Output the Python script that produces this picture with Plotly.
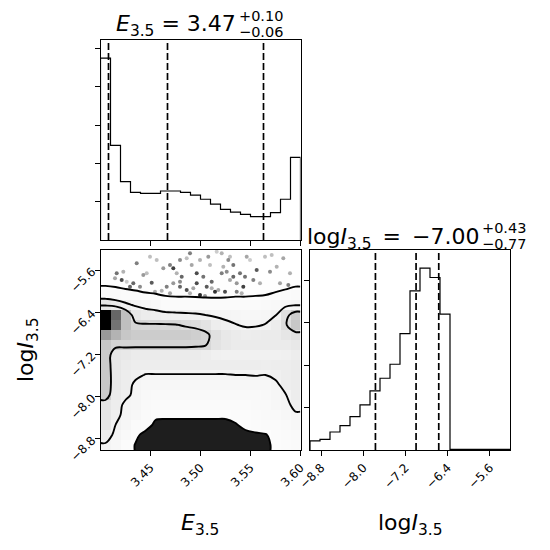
import numpy as np
import plotly.graph_objects as go

# ---------------- data ----------------
E_range = [3.40, 3.60]
logI_range = [-9.01, -5.22]
n_bins = 20

E_counts = [4750, 2470, 1525, 1245, 1220, 1220, 1280, 1280, 1245, 1170,
            1065, 935, 800, 730, 670, 610, 610, 715, 1065, 2160]
logI_counts = [213, 252, 425, 575, 787, 1063, 1394, 1693, 2024, 2748,
               3756, 4291, 4071, 3205, 14, 14, 14, 14, 14, 14]

E_quantiles = [3.408, 3.467, 3.563]
logI_quantiles = [-7.77, -7.00, -6.57]

E_ticks = [3.45, 3.50, 3.55, 3.60]
logI_ticks = [-8.8, -8.0, -7.2, -6.4, -5.6]
E_hist_yticks = [1000, 2000, 3000, 4000, 5000]
logI_hist_yticks = [1000, 2000, 3000, 4000]

# smoothed 2-D density (rows: logI bins bottom->top, cols: E bins left->right), normalised to max 1
density = [
    [0.045, 0.03, 0.015, 0.0095, 0.006, 0.005, 0.005, 0.005, 0.005, 0.005, 0.005, 0.005, 0.005, 0.005, 0.006, 0.007, 0.008, 0.012, 0.015, 0.02],
    [0.07, 0.04, 0.025, 0.012, 0.007, 0.006, 0.005, 0.005, 0.005, 0.005, 0.005, 0.005, 0.005, 0.006, 0.007, 0.008, 0.009, 0.015, 0.02, 0.025],
    [0.10, 0.05, 0.035, 0.02, 0.014, 0.008, 0.007, 0.007, 0.007, 0.007, 0.007, 0.007, 0.007, 0.009, 0.013, 0.016, 0.018, 0.02, 0.025, 0.03],
    [0.10, 0.06, 0.04, 0.03, 0.02, 0.012, 0.012, 0.012, 0.012, 0.012, 0.012, 0.012, 0.012, 0.014, 0.016, 0.02, 0.022, 0.025, 0.03, 0.045],
    [0.10, 0.07, 0.04, 0.035, 0.025, 0.02, 0.02, 0.02, 0.02, 0.02, 0.02, 0.02, 0.02, 0.02, 0.02, 0.022, 0.025, 0.03, 0.04, 0.06],
    [0.20, 0.08, 0.06, 0.04, 0.028, 0.025, 0.025, 0.025, 0.025, 0.025, 0.025, 0.025, 0.025, 0.025, 0.025, 0.025, 0.028, 0.035, 0.048, 0.07],
    [0.22, 0.09, 0.07, 0.04, 0.03, 0.03, 0.03, 0.03, 0.03, 0.03, 0.03, 0.03, 0.03, 0.03, 0.03, 0.03, 0.032, 0.04, 0.065, 0.075],
    [0.22, 0.09, 0.07, 0.06, 0.048, 0.048, 0.048, 0.048, 0.048, 0.048, 0.048, 0.048, 0.048, 0.05, 0.05, 0.052, 0.05, 0.06, 0.07, 0.08],
    [0.20, 0.10, 0.08, 0.07, 0.07, 0.07, 0.07, 0.07, 0.07, 0.07, 0.07, 0.07, 0.07, 0.07, 0.07, 0.07, 0.068, 0.07, 0.07, 0.08],
    [0.20, 0.10, 0.09, 0.08, 0.08, 0.08, 0.08, 0.08, 0.08, 0.08, 0.07, 0.06, 0.055, 0.055, 0.055, 0.055, 0.055, 0.055, 0.06, 0.07],
    [0.22, 0.17, 0.17, 0.17, 0.17, 0.17, 0.17, 0.17, 0.17, 0.165, 0.155, 0.11, 0.09, 0.08, 0.08, 0.08, 0.08, 0.08, 0.08, 0.09],
    [0.40, 0.30, 0.22, 0.20, 0.20, 0.20, 0.20, 0.20, 0.20, 0.19, 0.17, 0.12, 0.09, 0.08, 0.07, 0.075, 0.08, 0.08, 0.10, 0.12],
    [1.00, 0.55, 0.25, 0.17, 0.16, 0.16, 0.158, 0.155, 0.14, 0.13, 0.11, 0.07, 0.06, 0.052, 0.045, 0.045, 0.052, 0.07, 0.14, 0.22],
    [1.00, 0.60, 0.25, 0.09, 0.075, 0.07, 0.063, 0.06, 0.0575, 0.055, 0.05, 0.045, 0.04, 0.035, 0.032, 0.033, 0.036, 0.048, 0.12, 0.20],
    [0.10, 0.08, 0.06, 0.045, 0.035, 0.028, 0.02, 0.02, 0.02, 0.02, 0.019, 0.018, 0.019, 0.02, 0.02, 0.02, 0.022, 0.028, 0.035, 0.045],
    [0.02, 0.018, 0.016, 0.014, 0.012, 0.011, 0.009, 0.008, 0.008, 0.0075, 0.007, 0.007, 0.007, 0.008, 0.008, 0.009, 0.01, 0.012, 0.015, 0.02],
    [0.009, 0.008, 0.006, 0.005, 0.004, 0.003, 0.002, 0.002, 0.002, 0.002, 0.002, 0.002, 0.002, 0.002, 0.002, 0.002, 0.003, 0.005, 0.006, 0.008],
    [0.0] * 20,
    [0.0] * 20,
    [0.0] * 20,
]
contour_levels = [0.01, 0.05, 0.15]
blob_rows = 5  # bottom rows where the low-density sample cloud sits

# individual samples outside the outer contour (upper region)
pts_E = [3.4162, 3.4228, 3.4212, 3.4145, 3.4262, 3.4328, 3.4428, 3.4462, 3.4512, 3.4612,
         3.4695, 3.4728, 3.4762, 3.4795, 3.4812, 3.4862, 3.4895, 3.4912, 3.4962, 3.4995,
         3.5028, 3.5078, 3.5095, 3.5112, 3.5145, 3.5178, 3.5212, 3.5228, 3.5245, 3.5262,
         3.5295, 3.5328, 3.5362, 3.5412, 3.5428, 3.5462, 3.5495, 3.5528, 3.5562, 3.5595,
         3.5695, 3.5712, 3.5828, 3.5878, 3.5895, 3.4995, 3.5045, 3.4795, 3.4862, 3.4928,
         3.4662, 3.4545, 3.4395, 3.4295, 3.4562, 3.4628, 3.5162, 3.5395, 3.5295, 3.5362,
         3.5062, 3.5112, 3.4795, 3.4962, 3.4728, 3.4895, 3.4495, 3.4362, 3.4695, 3.5212,
         3.5278, 3.5328, 3.5445, 3.5645, 3.5762, 3.5795]
pts_logI = [-5.662, -5.631, -5.788, -5.756, -5.820, -5.851, -5.693, -5.662, -5.839, -5.990,
            -5.504, -5.567, -5.662, -5.820, -5.725, -5.378, -5.283, -5.504, -5.662, -5.409,
            -5.725, -5.346, -5.504, -5.820, -6.010, -5.978, -5.662, -5.536, -6.010, -5.631,
            -5.346, -5.504, -5.851, -6.041, -5.915, -5.346, -5.409, -5.788, -5.599, -5.851,
            -5.631, -5.315, -5.378, -5.883, -5.662, -6.072, -6.091, -5.915, -5.978, -5.946,
            -5.915, -6.010, -5.915, -5.915, -5.409, -5.567, -5.252, -5.662, -5.788, -6.010,
            -5.915, -5.946, -5.409, -5.851, -5.851, -6.041, -5.346, -5.472, -6.041, -5.283,
            -5.409, -5.725, -5.725, -5.346, -5.536, -5.851]
pts_alpha = [0.55, 0.3, 0.7, 0.35, 0.2, 0.6, 0.4, 0.25, 0.65, 0.3,
             0.5, 0.75, 0.3, 0.45, 0.6, 0.25, 0.5, 0.35, 0.7, 0.3,
             0.55, 0.4, 0.25, 0.6, 0.8, 0.35, 0.5, 0.3, 0.7, 0.45,
             0.25, 0.55, 0.4, 0.3, 0.75, 0.35, 0.2, 0.5, 0.65, 0.3,
             0.45, 0.25, 0.35, 0.5, 0.3, 0.85, 0.4, 0.6, 0.7, 0.35,
             0.5, 0.3, 0.45, 0.6, 0.25, 0.4, 0.2, 0.55, 0.35, 0.5,
             0.65, 0.3, 0.45, 0.7, 0.4, 0.3, 0.25, 0.5, 0.35, 0.3,
             0.45, 0.6, 0.55, 0.25, 0.3, 0.35]

title_E = ("<i>E</i><sub>3.5</sub> = 3.47", "+0.10", "\u22120.06")
title_I = ("log<i>I</i><sub>3.5</sub>\u2002=\u2002\u22127.00", "+0.43", "\u22120.77")
label_E = "<i>E</i><sub>3.5</sub>"
label_I = "log<i>I</i><sub>3.5</sub>"

# ---------------- derived quantities ----------------
E_edges = np.linspace(E_range[0], E_range[1], n_bins + 1)
I_edges = np.linspace(logI_range[0], logI_range[1], n_bins + 1)
E_cent = 0.5 * (E_edges[:-1] + E_edges[1:])
I_cent = 0.5 * (I_edges[:-1] + I_edges[1:])
H = np.array(density)
Hp = np.pad(H, 1, mode="edge")
Ep = np.concatenate([[E_range[0]], E_cent, [E_range[1]]])
Ip = np.concatenate([[logI_range[0]], I_cent, [logI_range[1]]])


def step(edges, counts):
    xs = np.repeat(edges, 2)
    ys = np.concatenate([[0], np.repeat(counts, 2), [0]])
    return xs, ys


W = H_PX = 550.0
FONT = "DejaVu Sans"


def px_x(p):
    return p / W


def px_y(p):
    return 1 - p / H_PX


fig = go.Figure()

# top histogram (E)
xs, ys = step(E_edges, E_counts)
fig.add_trace(go.Scatter(x=xs, y=ys, mode="lines", line=dict(color="black", width=1.2),
                         xaxis="x", yaxis="y", hoverinfo="skip", showlegend=False))
# right histogram (logI)
xs, ys = step(I_edges, logI_counts)
fig.add_trace(go.Scatter(x=xs, y=ys, mode="lines", line=dict(color="black", width=1.2),
                         xaxis="x3", yaxis="y3", hoverinfo="skip", showlegend=False))

# 2-D density
fig.add_trace(go.Heatmap(x=E_cent, y=I_cent, z=H, zmin=0, zmax=1,
                         colorscale=[[0, "white"], [1, "black"]], showscale=False,
                         xaxis="x2", yaxis="y2", hoverinfo="skip"))
# samples outside the outer contour
fig.add_trace(go.Scatter(x=pts_E, y=pts_logI, mode="markers",
                         marker=dict(color="black", size=4, opacity=pts_alpha, line=dict(width=0)),
                         xaxis="x2", yaxis="y2", hoverinfo="skip", showlegend=False))
# dense low-density cloud at the bottom (plotly shades the region outside the constraint)
fig.add_trace(go.Contour(x=Ep, y=Ip[:blob_rows + 2], z=Hp[:blob_rows + 2],
                         contours=dict(type="constraint", operation=">", value=contour_levels[0]),
                         fillcolor="rgb(30,30,30)", line=dict(width=0), showscale=False,
                         xaxis="x2", yaxis="y2", hoverinfo="skip"))
# contour lines
for lev in contour_levels:
    fig.add_trace(go.Contour(x=Ep, y=Ip, z=Hp,
                             contours=dict(start=lev, end=lev, size=1, coloring="none"),
                             line=dict(color="black", width=1.9, smoothing=1),
                             showscale=False, xaxis="x2", yaxis="y2", hoverinfo="skip"))

# quantile lines
for q in E_quantiles:
    fig.add_shape(type="line", x0=q, x1=q, y0=0, y1=1, xref="x", yref="y domain",
                  line=dict(color="black", width=1.7, dash="7px,3px"))
for q in logI_quantiles:
    fig.add_shape(type="line", x0=q, x1=q, y0=0, y1=1, xref="x3", yref="y3 domain",
                  line=dict(color="black", width=1.7, dash="7px,3px"))

axis_common = dict(showline=True, linecolor="black", linewidth=1, mirror=True,
                   ticks="outside", ticklen=5, tickwidth=1, tickcolor="black",
                   showgrid=False, zeroline=False, automargin=False,
                   tickfont=dict(family=FONT, size=12, color="black"))

xd_left = [px_x(100.5), px_x(300.5)]
xd_right = [px_x(310), px_x(510)]
yd_top = [px_y(240), px_y(40)]
yd_bot = [px_y(450), px_y(250)]

fig.update_layout(
    width=550, height=550, autosize=False,
    margin=dict(l=0, r=0, t=0, b=0, pad=0),
    paper_bgcolor="white", plot_bgcolor="white",
    showlegend=False,
    xaxis=dict(domain=xd_left, anchor="y", range=E_range, tickvals=E_ticks,
               showticklabels=False, **axis_common),
    yaxis=dict(domain=yd_top, anchor="x", range=[0, 1.1 * max(E_counts)],
               tickvals=E_hist_yticks, showticklabels=False, **axis_common),
    xaxis2=dict(domain=xd_left, anchor="y2", range=E_range, tickvals=E_ticks,
                tickformat=".2f", tickangle=-45, **axis_common),
    yaxis2=dict(domain=yd_bot, anchor="x2", range=logI_range, tickvals=logI_ticks,
                tickformat=".1f", tickangle=-45, **axis_common),
    xaxis3=dict(domain=xd_right, anchor="y3", range=logI_range, tickvals=logI_ticks,
                tickformat=".1f", tickangle=-45, **axis_common),
    yaxis3=dict(domain=yd_bot, anchor="x3", range=[0, 1.1 * max(logI_counts)],
                tickvals=logI_hist_yticks, showticklabels=False, **axis_common),
)

big = dict(family=FONT, size=22, color="black")
small = dict(family=FONT, size=14.5, color="black")
ann = []
# titles: main text, then stacked upper/lower errors
for (main, sup, sub), xr, b in [(title_E, 237, 24), (title_I, 480, 236)]:
    ann.append(dict(text=main, x=px_x(xr), y=px_y(b + 2), xanchor="right", yanchor="middle",
                    font=big))
    ann.append(dict(text=sup, x=px_x(xr + 1), y=px_y(b + 1), xanchor="left", yanchor="bottom",
                    font=small))
    ann.append(dict(text=sub, x=px_x(xr + 1), y=px_y(b - 1), xanchor="left", yanchor="top",
                    font=small))
# axis labels
ann.append(dict(text=label_E, x=px_x(200), y=px_y(524), xanchor="center", yanchor="middle", font=big))
ann.append(dict(text=label_I, x=px_x(410), y=px_y(524), xanchor="center", yanchor="middle", font=big))
ann.append(dict(text=label_I, x=px_x(27), y=px_y(350), xanchor="center", yanchor="middle",
                textangle=-90, font=big))
for a in ann:
    a.update(xref="paper", yref="paper", showarrow=False, borderpad=0)
fig.update_layout(annotations=ann)

fig.write_html("out.html", config={"displayModeBar": False},
               post_script="document.body.style.margin='0';document.body.style.overflow='hidden';")
